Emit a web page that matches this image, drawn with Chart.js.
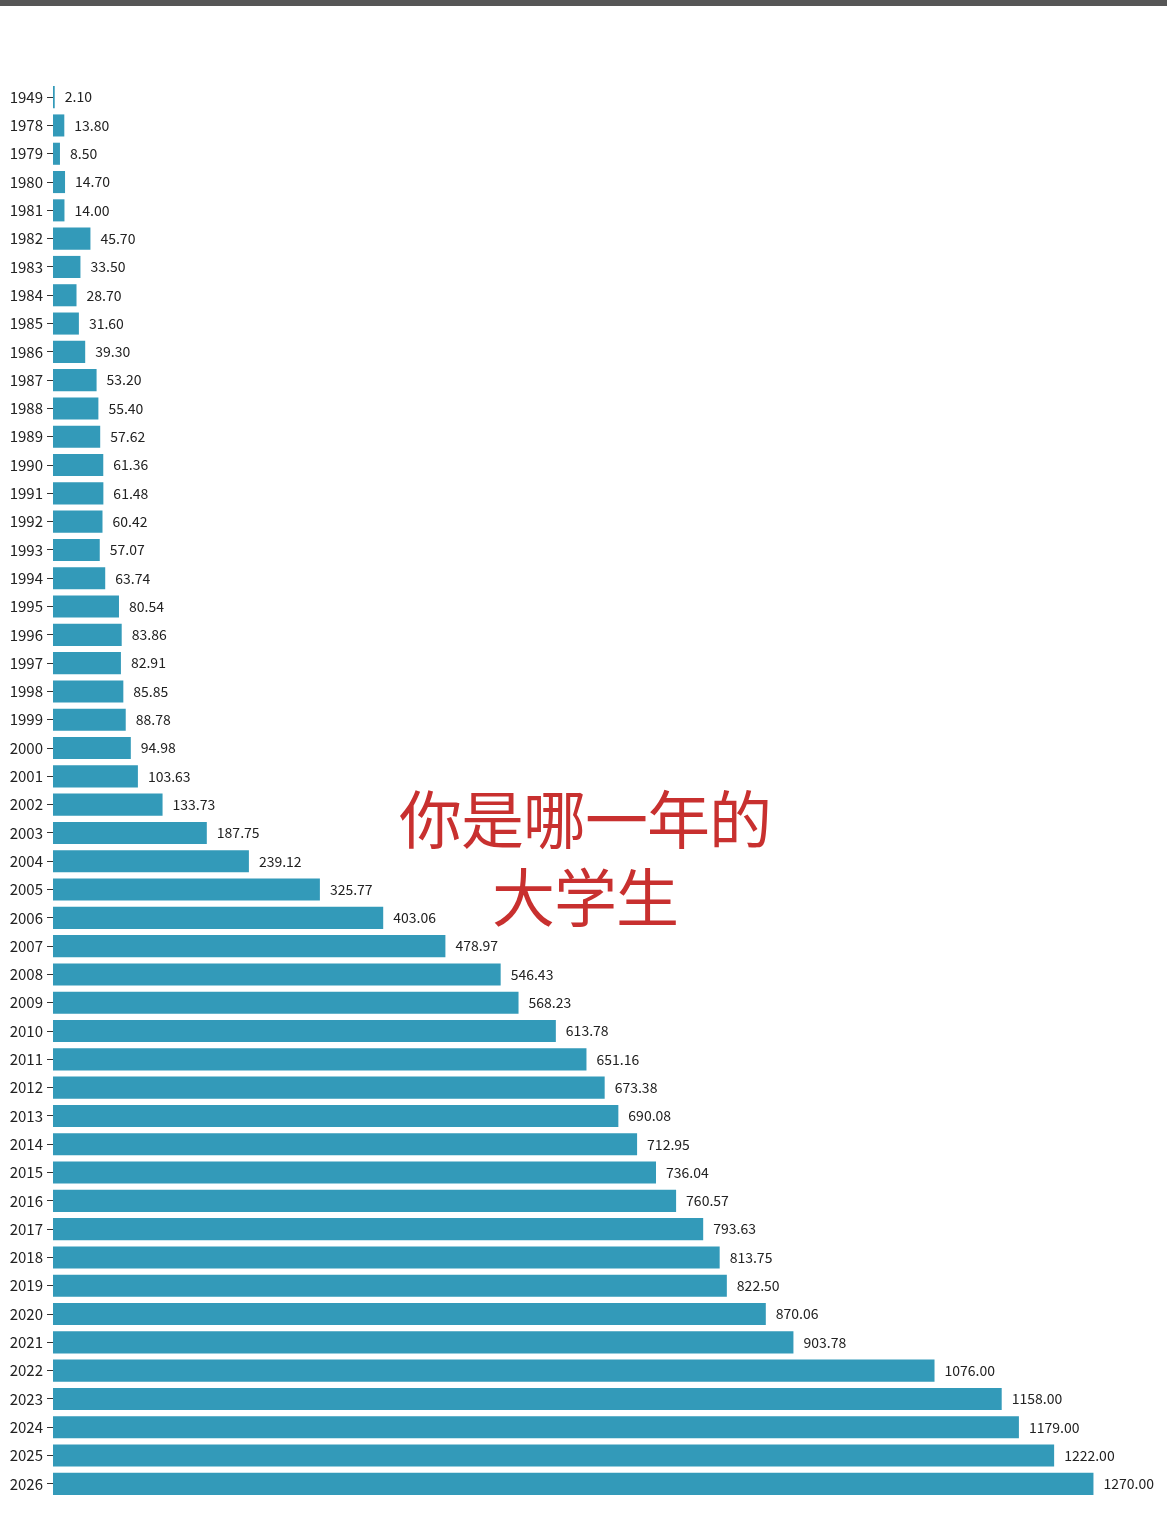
<!DOCTYPE html>
<html>
<head>
<meta charset="utf-8">
<script src="https://cdn.jsdelivr.net/npm/chart.js@4.4.1/dist/chart.umd.min.js"></script>
<style>
  html, body { margin: 0; padding: 0; background: #fff; }
  .topbar { position: absolute; left: 0; top: 0; width: 1167px; height: 6px; background: #565656; }
  .wrap { position: relative; width: 1167px; height: 1515px; }
  .headline {
    position: absolute; left: 385px; top: 777px; width: 400px;
    text-align: center; color: #c8302f;
    font-family: "Noto Sans CJK SC", sans-serif; font-weight: 400;
    font-size: 63px; line-height: 78px; letter-spacing: -1px;
  }
</style>
</head>
<body>
<div class="wrap">
  <div class="topbar"></div>
  <canvas id="barChart"></canvas>
  <div class="headline">你是哪一年的<br>大学生</div>
</div>
<script>
const years = ['1949', '1978', '1979', '1980', '1981', '1982', '1983', '1984', '1985', '1986',
  '1987', '1988', '1989', '1990', '1991', '1992', '1993', '1994', '1995', '1996',
  '1997', '1998', '1999', '2000', '2001', '2002', '2003', '2004', '2005', '2006',
  '2007', '2008', '2009', '2010', '2011', '2012', '2013', '2014', '2015', '2016',
  '2017', '2018', '2019', '2020', '2021', '2022', '2023', '2024', '2025', '2026'];
const students = [2.10, 13.80, 8.50, 14.70, 14.00, 45.70, 33.50, 28.70, 31.60, 39.30,
  53.20, 55.40, 57.62, 61.36, 61.48, 60.42, 57.07, 63.74, 80.54, 83.86,
  82.91, 85.85, 88.78, 94.98, 103.63, 133.73, 187.75, 239.12, 325.77, 403.06,
  478.97, 546.43, 568.23, 613.78, 651.16, 673.38, 690.08, 712.95, 736.04, 760.57,
  793.63, 813.75, 822.50, 870.06, 903.78, 1076.00, 1158.00, 1179.00, 1222.00, 1270.00];

// value labels at the end of each bar
const valueLabels = {
    id: 'valueLabels',
    afterDatasetsDraw(chart) {
        const ctx = chart.ctx;
        const meta = chart.getDatasetMeta(0);
        ctx.save();
        ctx.font = '14px "Noto Sans CJK SC", sans-serif';
        ctx.fillStyle = '#222';
        ctx.textBaseline = 'middle';
        ctx.textAlign = 'left';
        meta.data.forEach(function(bar, i) {
            ctx.fillText(students[i].toFixed(2), bar.x + 10, bar.y);
        });
        ctx.restore();
    }
};

const canvas = document.getElementById('barChart');
canvas.width = 1167;
canvas.height = 1515;
canvas.style.width = '1167px';
canvas.style.height = '1515px';

const barChart = new Chart(canvas.getContext('2d'), {
    type: 'bar',
    data: {
        labels: years,
        datasets: [{
            data: students,
            backgroundColor: 'rgb(51, 154, 185)',
            borderWidth: 0,
            barPercentage: 0.78,
            categoryPercentage: 1.0
        }]
    },
    options: {
        indexAxis: 'y',
        responsive: false,
        animation: false,
        layout: {
            padding: { top: 83, bottom: 17, left: 0, right: 8 }
        },
        plugins: {
            legend: { display: false },
            tooltip: { enabled: false }
        },
        scales: {
            x: {
                display: false,
                min: 0,
                max: 1350
            },
            y: {
                afterFit: function(scale) { scale.width = 53; },
                border: { display: false },
                grid: {
                    offset: false,
                    drawOnChartArea: false,
                    drawTicks: true,
                    tickLength: 6,
                    color: '#333'
                },
                ticks: {
                    color: '#222',
                    padding: 4,
                    font: { family: '"Noto Sans CJK SC", sans-serif', size: 15 }
                }
            }
        }
    },
    plugins: [valueLabels]
});
</script>
</body>
</html>
